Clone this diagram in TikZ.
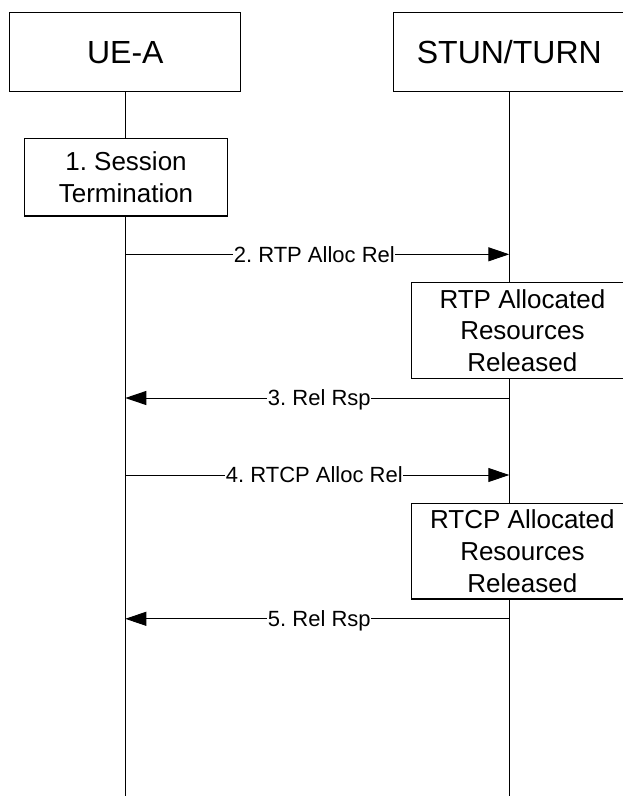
\documentclass[tikz,border=0pt]{standalone}
\usepackage{fontspec}
\setmainfont{Liberation Sans}
\usetikzlibrary{arrows.meta}
\frenchspacing
\begin{document}
\begin{tikzpicture}[x=1pt,y=-1pt,
  headbox/.style={draw,line width=1.2pt,minimum width=231pt,minimum height=79pt,inner sep=0pt,font=\fontsize{32}{38}\selectfont\frenchspacing},
  actbox/.style={draw,fill=white,line width=1.2pt,inner sep=0pt,align=center,font=\fontsize{26}{31.7}\selectfont\frenchspacing},
  life/.style={line width=1pt},
  msg/.style={line width=1pt,-{Triangle[length=21pt,width=14pt]}},
  msglbl/.style={fill=white,inner xsep=0.5pt,inner ysep=0pt,text height=15.8pt,text depth=0pt,xshift=-3pt,font=\fontsize{22}{26}\selectfont\frenchspacing}
]
\useasboundingbox (0,0) rectangle (623,796);
% headers
\node[headbox] (ue) at (125.3,52.2) {UE-A};
\node[headbox] (st) at (509.3,52.2) {STUN/TURN};
% lifelines
\coordinate (ueEnd) at (125.3,796);
\coordinate (stEnd) at (509.3,796);
\draw[life] (ue.south) -- (ueEnd);
\draw[life] (st.south) -- (stEnd);
% action boxes
\node[actbox,minimum width=203.4pt,minimum height=77.7pt] (sess) at (126,177.2) {1. Session\\Termination};
\node[actbox,minimum width=221.3pt,minimum height=95.7pt] (rtp) at (522.4,330.7) {RTP Allocated\\Resources\\Released};
\node[actbox,minimum width=221.3pt,minimum height=95.7pt] (rtcp) at (522.4,551.2) {RTCP Allocated\\Resources\\Released};
% message end points on the lifelines
\coordinate (m2a) at (125.3,254.3);
\coordinate (m2b) at (509.3,254.3);
\coordinate (m3a) at (125.3,398);
\coordinate (m3b) at (509.3,398);
\coordinate (m4a) at (125.3,475);
\coordinate (m4b) at (509.3,475);
\coordinate (m5a) at (125.3,618.8);
\coordinate (m5b) at (509.3,618.8);
% messages
\draw[msg] (m2a) -- node[msglbl] (l2) {2. RTP Alloc Rel} (m2b);
\draw[msg] (m3b) -- node[msglbl,xshift=5pt] (l3) {3. Rel Rsp} (m3a);
\draw[msg] (m4a) -- node[msglbl] (l4) {4. RTCP Alloc Rel} (m4b);
\draw[msg] (m5b) -- node[msglbl,xshift=5pt] (l5) {5. Rel Rsp} (m5a);
\end{tikzpicture}
\end{document}
